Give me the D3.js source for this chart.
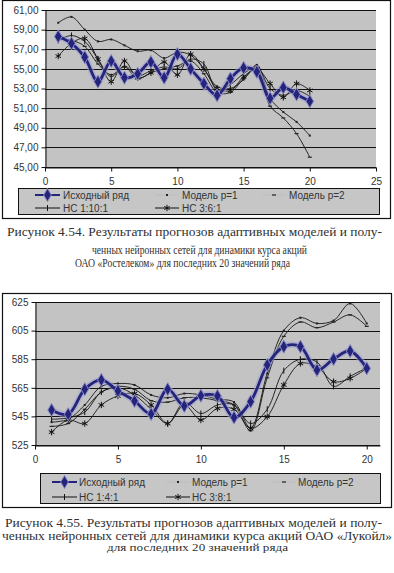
<!DOCTYPE html>
<html>
<head>
<meta charset="utf-8">
<script src="https://cdn.jsdelivr.net/npm/d3@7/dist/d3.min.js"></script>
<style>
  body { margin: 0; background: #fff; }
  svg { display: block; }
  .cap { font-family: "Liberation Serif", "DejaVu Serif", serif; }
  .sans { font-family: "Liberation Sans", Arial, sans-serif; font-size: 10px; }
</style>
</head>
<body>
<script>
// x values (observation number), same for both charts
var xValues = [1, 2, 3, 4, 5, 6, 7, 8, 9, 10, 11, 12, 13, 14, 15, 16, 17, 18, 19, 20];

// Рисунок 4.54 - Ростелеком
var rtkNames = ["Исходный ряд", "Модель p=1", "Модель p=2", "НС 1:10:1", "НС 3:6:1"];
var rtkOriginal = [58.3, 57.6, 56.2, 53.7, 55.8, 54.1, 54.5, 55.7, 54.1, 56.5, 55.0, 53.5, 52.3, 54.0, 55.1, 54.7, 52.0, 53.1, 52.4, 51.7];
var rtkModel1   = [59.7, 60.3, 59.0, 57.8, 58.0, 57.4, 56.8, 56.9, 56.1, 56.7, 56.4, 55.0, 53.2, 53.0, 53.9, 55.4, 52.0, 50.6, 49.6, 48.2];
var rtkModel2   = [58.0, 57.9, 57.3, 55.5, 54.4, 55.2, 54.0, 54.6, 55.0, 55.3, 55.8, 54.5, 52.6, 52.6, 54.0, 55.0, 51.2, 50.0, 48.4, 46.0];
var rtkNet1     = [57.9, 58.4, 57.8, 56.0, 54.2, 55.3, 54.3, 54.8, 55.2, 55.0, 56.0, 55.5, 52.8, 53.4, 54.5, 55.2, 53.0, 52.3, 52.8, 52.2];
var rtkNet2     = [56.3, 57.6, 58.1, 56.0, 53.7, 55.8, 54.1, 54.6, 55.7, 54.4, 56.5, 55.0, 53.0, 52.8, 54.2, 55.0, 53.5, 52.1, 53.5, 52.8];
var rtkYTicks = [45, 47, 49, 51, 53, 55, 57, 59, 61];
var rtkXTicks = [0, 5, 10, 15, 20, 25];
var rtkCaption = [
  "Рисунок 4.54. Результаты прогнозов адаптивных моделей и полу-",
  "ченных нейронных сетей для динамики курса акций",
  "ОАО «Ростелеком» для последних 20 значений ряда"
];

// Рисунок 4.55 - Лукойл
var lkNames = ["Исходный ряд", "Модель p=1", "Модель p=2", "НС 1:4:1", "НС 3:8:1"];
var lkOriginal = [549.5, 546.5, 564, 570.5, 562.8, 555.8, 546.7, 564, 552.3, 559.5, 559.3, 544.2, 555.3, 581, 593.8, 593.8, 577.4, 585.1, 590.7, 578.6];
var lkModel1   = [541, 543, 553, 566, 568, 567, 560, 558, 561, 560, 557, 555, 537, 575, 605, 614, 610, 612, 624, 610];
var lkModel2   = [538, 540, 550, 562, 566, 564, 556, 555, 558, 558, 556, 553, 535, 572, 601, 611, 607, 611, 616, 608];
var lkNet1     = [543, 544, 548, 562, 565, 560, 550, 540, 555, 547, 553, 553, 540, 550, 577, 585, 583, 566, 573, 579];
var lkNet2     = [534, 542.5, 540, 553, 559.3, 561, 553, 540, 553, 542.5, 550.6, 550, 536.6, 544.8, 567, 582, 579.7, 569.3, 571.6, 578.6];
var lkYTicks = [525, 545, 565, 585, 605, 625];
var lkXTicks = [0, 5, 10, 15, 20];
var lkCaption = [
  "Рисунок 4.55. Результаты прогнозов адаптивных моделей и полу-",
  "ченных нейронных сетей для динамики курса акций ОАО «Лукойл»",
  "для последних 20 значений ряда"
];

var W = 394, H = 573;
var svg = d3.select("body").append("svg")
    .attr("width", W)
    .attr("height", H)
    .style("background", "#fff");

var plotFill = "#c3c3c3";
var navy = "#24247c";

function commaFmt(v) { return d3.format(".2f")(v).replace(".", ","); }

// marker for each series index
function drawMarker(g, k, x, y) {
  if (k == 0) {
    g.append("path").attr("transform", "translate(" + x + "," + y + ")")
      .attr("d", d3.symbol(d3.symbolDiamond, 50)())
      .attr("fill", navy).attr("stroke", "#8a8ac4").attr("stroke-width", 1);
  } else if (k == 1) {
    g.append("rect").attr("x", x - 1).attr("y", y - 1).attr("width", 2).attr("height", 2).attr("fill", "#222");
  } else if (k == 2) {
    g.append("line").attr("x1", x - 2).attr("x2", x + 2).attr("y1", y).attr("y2", y)
      .attr("stroke", "#222").attr("stroke-width", 1.2);
  } else if (k == 3) {
    g.append("line").attr("x1", x).attr("x2", x).attr("y1", y - 3).attr("y2", y + 3)
      .attr("stroke", "#111").attr("stroke-width", 1);
  } else {
    g.append("path").attr("transform", "translate(" + x + "," + y + ")")
      .attr("d", d3.symbol(d3.symbolAsterisk, 28)())
      .attr("fill", "none").attr("stroke", "#111").attr("stroke-width", 1);
  }
}

function drawChart(o) {
  var g = svg.append("g");

  // outer frame
  g.append("rect").attr("x", o.box[0] + 0.5).attr("y", o.box[1] + 0.5)
    .attr("width", o.box[2]).attr("height", o.box[3])
    .attr("fill", "#fff").attr("stroke", "#111").attr("stroke-width", 1.2);

  var x = d3.scaleLinear().domain(o.xDomain).range([o.plot.l, o.plot.r]);
  var y = d3.scaleLinear().domain(o.yDomain).range([o.plot.b, o.plot.t]);

  g.append("rect").attr("x", o.plot.l).attr("y", o.plot.t)
    .attr("width", o.plot.r - o.plot.l).attr("height", o.plot.b - o.plot.t)
    .attr("fill", plotFill);

  // gridlines
  g.append("g").selectAll("line").data(o.yTicks).enter().append("line")
    .attr("x1", o.plot.l).attr("x2", o.plot.r)
    .attr("y1", function(d) { return Math.round(y(d)) + 0.5; })
    .attr("y2", function(d) { return Math.round(y(d)) + 0.5; })
    .attr("stroke", "#111").attr("stroke-width", 1);

  // axes
  var yAxis = g.append("g")
    .attr("transform", "translate(" + (o.plot.l + 0.5) + ",0)")
    .call(d3.axisLeft(y).tickValues(o.yTicks).tickSize(4).tickSizeOuter(0).tickPadding(3).tickFormat(o.yFormat));
  var xAxis = g.append("g")
    .attr("transform", "translate(0," + (o.plot.b + 0.5) + ")")
    .call(d3.axisBottom(x).tickValues(o.xTicks).tickSize(4).tickSizeOuter(0).tickPadding(6));
  [yAxis, xAxis].forEach(function(a) {
    a.attr("font-family", null).attr("font-size", null);
    a.select(".domain").attr("stroke", "#111");
    a.selectAll(".tick line").attr("stroke", "#111");
    a.selectAll("text").attr("fill", "#333").attr("class", "sans");
  });

  // series lines (smoothed like Excel)
  var line = d3.line()
    .x(function(d, i) { return x(xValues[i]); })
    .y(function(d) { return y(d); })
    .curve(d3.curveCatmullRom.alpha(0.5));

  var order = [1, 2, 3, 4, 0];
  order.forEach(function(k) {
    var vals = o.series[k];
    if (k == 0) {
      g.append("path").attr("d", line(vals)).attr("fill", "none")
        .attr("stroke", "#9c9cd0").attr("stroke-width", 6).attr("stroke-opacity", 0.55);
      g.append("path").attr("d", line(vals)).attr("fill", "none")
        .attr("stroke", navy).attr("stroke-width", 2.8);
    } else {
      g.append("path").attr("d", line(vals)).attr("fill", "none")
        .attr("stroke", "#151515").attr("stroke-width", 0.9);
    }
    var mg = g.append("g");
    vals.forEach(function(v, i) { drawMarker(mg, k, x(xValues[i]), y(v)); });
  });

  // legend
  var L = o.legend;
  g.append("rect").attr("x", L.x + 0.5).attr("y", L.y + 0.5).attr("width", L.w).attr("height", L.h)
    .attr("fill", "#c6c6c6").attr("stroke", "#111").attr("stroke-width", 1);
  o.names.forEach(function(name, k) {
    var row = k < 3 ? 0 : 1, col = k < 3 ? k : k - 3;
    var ly = L.rows[row];
    var x0 = L.cols[col][0], x1 = L.cols[col][1];
    var li = g.append("g");
    if (k == 0) {
      li.append("line").attr("x1", x0).attr("x2", x1).attr("y1", ly).attr("y2", ly)
        .attr("stroke", navy).attr("stroke-width", 2);
    } else if (k == 1 || k == 2) {
      li.append("line").attr("x1", x0).attr("x2", x1).attr("y1", ly).attr("y2", ly)
        .attr("stroke", "#bdbdbd").attr("stroke-width", 1);
    } else {
      li.append("line").attr("x1", x0).attr("x2", x1).attr("y1", ly).attr("y2", ly)
        .attr("stroke", "#111").attr("stroke-width", 1);
    }
    drawMarker(li, k, (x0 + x1) / 2, ly);
    li.append("text").attr("x", L.cols[col][2]).attr("y", ly + 3.5)
      .attr("fill", "#333").attr("class", "sans")
      .text(name);
  });

  // caption under the chart
  o.caption.forEach(function(c, i) {
    var cl = o.capLines[i];
    g.append("text").attr("x", cl[0]).attr("y", cl[1])
      .attr("class", "cap")
      .attr("textLength", cl[2]).attr("lengthAdjust", "spacingAndGlyphs")
      .attr("fill", "#303030")
      .style("font-size", cl[3] + "px")
      .text(c);
  });
}

drawChart({
  box: [2, 0, 388, 218],
  plot: { l: 45, r: 376, t: 10, b: 167 },
  xDomain: [0, 25], xTicks: rtkXTicks,
  yDomain: [45, 61], yTicks: rtkYTicks, yFormat: commaFmt,
  series: [rtkOriginal, rtkModel1, rtkModel2, rtkNet1, rtkNet2],
  names: rtkNames,
  legend: { x: 18, y: 188, w: 361, h: 26, rows: [195, 208],
            cols: [[35, 60, 63], [155, 179, 182], [262, 286, 289]] },
  caption: rtkCaption,
  capLines: [[7, 236, 375, 13], [92, 254, 215, 12], [75, 267, 215, 12]]
});

drawChart({
  box: [2, 293, 389, 214],
  plot: { l: 35, r: 380, t: 302, b: 445 },
  xDomain: [0, 20.8], xTicks: lkXTicks,
  yDomain: [525, 625], yTicks: lkYTicks, yFormat: d3.format("d"),
  series: [lkOriginal, lkModel1, lkModel2, lkNet1, lkNet2],
  names: lkNames,
  legend: { x: 40, y: 473, w: 340, h: 30, rows: [482, 497],
            cols: [[52, 77, 79], [166, 190, 192], [272, 296, 298]] },
  caption: lkCaption,
  capLines: [[5, 527, 377, 12.5], [2, 539.5, 390, 12.5], [107, 551, 181, 11]]
});
</script>
</body>
</html>
